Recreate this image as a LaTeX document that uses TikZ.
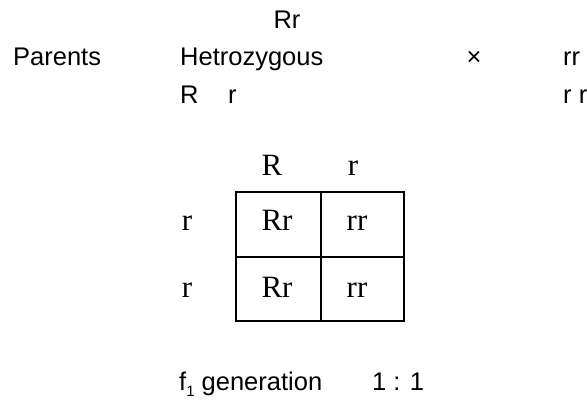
\documentclass[tikz,border=0pt]{standalone}
\usepackage{fontspec}
\setmainfont{Liberation Sans}
\newfontfamily\serifface{Liberation Serif}
\begin{document}
\begin{tikzpicture}[x=1pt,y=-1pt,
  sans/.style={inner sep=0pt,font=\fontsize{25.5}{30}\selectfont},
  ser/.style={inner sep=0pt,anchor=base,font=\serifface\fontsize{31}{36}\selectfont},
  gridline/.style={line width=1.8pt}]
\useasboundingbox (0,0) rectangle (587,400);
\node[sans,anchor=base] (rrtop) at (287,28) {Rr};
\node[sans,anchor=base west] (parents) at (13,65) {Parents};
\node[sans,anchor=base west] (het) at (180,65) {Hetrozygous};
\node[sans,anchor=base] (cross) at (474,65) {×};
\node[sans,anchor=base west] (rr) at (563,65) {rr};
\node[sans,anchor=base west] (Rr2) at (180,103) {R\hspace{29.5pt}r};
\node[sans,anchor=base west] (rr2) at (563,103) {r r};
% punnett square
\node[ser] (hR) at (272,175) {R};
\node[ser] (hr) at (353,175) {r};
\node[ser] (v1) at (187,230) {r};
\node[ser] (v2) at (187,297) {r};
\node[ser] (c11) at (277,230) {Rr};
\node[ser] (c12) at (357,230) {rr};
\node[ser] (c21) at (277,297) {Rr};
\node[ser] (c22) at (357,297) {rr};
\draw[gridline] (236,192) rectangle (404,321);
\draw[gridline] (321,192) -- (321,321);
\draw[gridline] (236,257) -- (404,257);
\node[sans,anchor=base west] (gen) at (179,390) {f\raisebox{-6pt}{\fontsize{15}{18}\selectfont 1} generation};
\node[sans,anchor=base west] (ratio) at (372,390) {1 : 1};
\end{tikzpicture}
\end{document}
